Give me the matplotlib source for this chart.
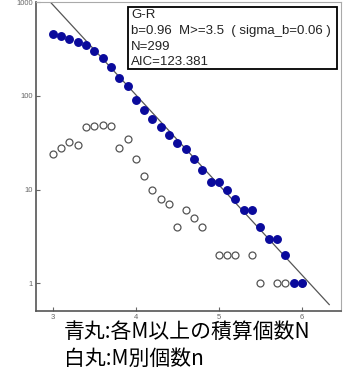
import numpy as np
import matplotlib.pyplot as plt
import matplotlib.ticker as mticker

plt.rcParams['font.family'] = ['Liberation Sans', 'DejaVu Sans']

########## data ##########
# magnitude bins
M = [3.0, 3.1, 3.2, 3.3, 3.4, 3.5, 3.6, 3.7, 3.8, 3.9,
     4.0, 4.1, 4.2, 4.3, 4.4, 4.5, 4.6, 4.7, 4.8, 4.9,
     5.0, 5.1, 5.2, 5.3, 5.4, 5.5, 5.6, 5.7, 5.8, 5.9, 6.0]
# cumulative count N (M and above), blue dots
N_cum = [460, 436, 408, 376, 346, 299, 251, 202, 154, 126,
         91, 70, 56, 46, 38, 31, 27, 21, 16, 12,
         12, 10, 8, 6, 6, 4, 3, 3, 2, 1, 1]
# count per bin n, white dots (0 = not drawn)
n_bin = [24, 28, 32, 30, 47, 48, 49, 48, 28, 35,
         21, 14, 10, 8, 7, 4, 6, 5, 4, 0,
         2, 2, 2, 0, 2, 1, 0, 1, 1, 0, 1]

# G-R fit: log10 N = a - b M
b_val = 0.96
a_val = 5.85
fit_range = [2.9, 6.33]

legend_lines = ['G-R',
                'b=0.96  M>=3.5  ( sigma_b=0.06 )',
                'N=299',
                'AIC=123.381']
note_lines = ['青丸:各M以上の積算個数N', '白丸:M別個数n']

########## figure ##########
fig = plt.figure(figsize=(3.45, 3.7), dpi=100)
ax = fig.add_axes([0.104, 0.1595, 0.884, 0.835])

m_fit = np.array(fit_range)
ax.plot(m_fit, 10 ** (a_val - b_val * m_fit), color='#555555', lw=0.9, zorder=2)

m_arr = np.array(M)
n_arr = np.array(n_bin, dtype=float)
keep = n_arr > 0
ax.plot(m_arr[keep], n_arr[keep], 'o', ms=5.0, mfc='white', mec='#555555',
        mew=0.9, zorder=3)
ax.plot(m_arr, N_cum, 'o', ms=5.4, mfc='#0a0a9c', mec='#0a0a9c', zorder=4)

ax.set_yscale('log')
ax.set_xlim(2.795, 6.47)
ax.set_ylim(0.507, 1000)
ax.set_xticks([3, 4, 5, 6])
ax.yaxis.set_major_locator(mticker.FixedLocator([1, 10, 100, 1000]))
ax.yaxis.set_major_formatter(mticker.FixedFormatter(['1', '10', '100', '1000']))
ax.yaxis.set_minor_locator(mticker.NullLocator())
ax.tick_params(direction='in', length=3, width=0.8, colors='#666666',
               labelsize=5.5, labelcolor='#666666', pad=2)

for side in ['left', 'bottom']:
    ax.spines[side].set_color('#555555')
    ax.spines[side].set_linewidth(1.2)
for side in ['top', 'right']:
    ax.spines[side].set_color('#aaaaaa')
    ax.spines[side].set_linewidth(0.8)

############# legend box #############
box = plt.Rectangle((0.302, 0.783), 0.685, 0.201, transform=ax.transAxes,
                    fill=True, fc='white', ec='black', lw=1.3, zorder=5)
ax.add_patch(box)
for i, line in enumerate(legend_lines):
    ax.text(0.312, 0.958 - i * 0.051, line, transform=ax.transAxes,
            fontsize=9.5, color='#222222', va='center', ha='left', zorder=6)

############# notes below #############
for i, line in enumerate(note_lines):
    fig.text(64 / 345, 1 - (332 + i * 27) / 370, line, fontsize=15,
             family=['Noto Sans CJK JP', 'DejaVu Sans'], color='black',
             va='center', ha='left')

fig.savefig('out.png', dpi=100)
